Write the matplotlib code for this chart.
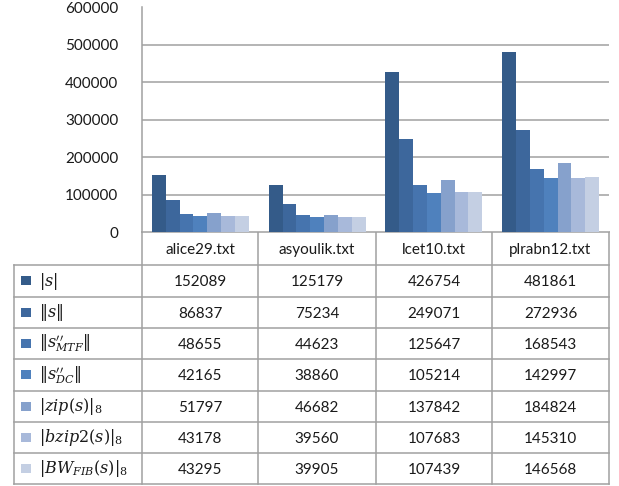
import matplotlib.pyplot as plt
import numpy as np

plt.rcParams['font.family'] = ['Lato', 'DejaVu Sans']
plt.rcParams['mathtext.fontset'] = 'dejavuserif'

# datos
archivos = ['alice29.txt', 'asyoulik.txt', 'lcet10.txt', 'plrabn12.txt']
etiquetas = [r'$|s|$', r'$\|s\|$', r"$\|s^{\prime\prime}_{MTF}\|$", r"$\|s^{\prime\prime}_{DC}\|$",
             r'$|zip(s)|_8$', r'$|bzip2(s)|_8$', r'$|BW_{FIB}(s)|_8$']
s_len = [152089, 125179, 426754, 481861]
s_norm = [86837, 75234, 249071, 272936]
s_mtf = [48655, 44623, 125647, 168543]
s_dc = [42165, 38860, 105214, 142997]
zip8 = [51797, 46682, 137842, 184824]
bzip8 = [43178, 39560, 107683, 145310]
bwfib8 = [43295, 39905, 107439, 146568]
series = [s_len, s_norm, s_mtf, s_dc, zip8, bzip8, bwfib8]
yticks = [0, 100000, 200000, 300000, 400000, 500000, 600000]

colores = ['#345b89', '#3d679c', '#4674ae', '#4f81bd', '#86a1cc', '#a8b9da', '#c4cfe3']
gris = '#a0a0a0'

W, H = 619, 486
fig = plt.figure(figsize=(W / 100, H / 100), dpi=100)

# eje de la tabla (coordenadas en pixeles)
tab = fig.add_axes([0, 0, 1, 1])
tab.set_xlim(0, W)
tab.set_ylim(H, 0)
tab.axis('off')

# eje del grafico
x0, x1, y0, y1 = 142, 609, 7.5, 232
ax = fig.add_axes([x0 / W, 1 - y1 / H, (x1 - x0) / W, (y1 - y0) / H])
ax.set_xlim(0, 4)
ax.set_ylim(0, 600000)
ax.set_yticks(yticks)
ax.set_yticklabels([str(t) for t in yticks], fontsize=11, color='#1a1a1a')
ax.tick_params(axis='y', length=0, pad=17)
ax.set_xticks([])
ax.grid(axis='y', color=gris, linewidth=1.1)
ax.set_axisbelow(True)
for lado in ['top', 'right', 'bottom']:
    ax.spines[lado].set_visible(False)
ax.spines['left'].set_color(gris)
ax.spines['left'].set_linewidth(1.1)

n = len(series)
ancho = 0.83 / n
xs = np.arange(len(archivos)) + 0.5
for i, (vals, c) in enumerate(zip(series, colores)):
    ax.bar(xs + (i - (n - 1) / 2) * ancho, vals, width=ancho, color=c, linewidth=0)

# tabla de valores
cols = [142, 258, 376, 492, 609]
filas = [232, 265, 297, 328, 359, 391, 422, 453, 484]
left = 14
kw = dict(color=gris, linewidth=1.1)
tab.plot([cols[0], cols[-1]], [filas[0], filas[0]], **kw)
for y in filas[1:]:
    tab.plot([left, cols[-1]], [y, y], **kw)
for x in cols:
    tab.plot([x, x], [filas[0], filas[-1]], **kw)
tab.plot([left, left], [filas[1], filas[-1]], **kw)

for j, nombre in enumerate(archivos):
    tab.text((cols[j] + cols[j + 1]) / 2, (filas[0] + filas[1]) / 2 + 1, nombre,
             ha='center', va='center', fontsize=11, color='#1a1a1a')

for i, (lab, vals, c) in enumerate(zip(etiquetas, series, colores)):
    yc = (filas[i + 1] + filas[i + 2]) / 2
    tab.add_patch(plt.Rectangle((21, yc - 5), 10, 9, color=c, linewidth=0))
    tab.text(39, yc, lab, ha='left', va='center', fontsize=11.5, color='#1a1a1a')
    for j, v in enumerate(vals):
        tab.text((cols[j] + cols[j + 1]) / 2, yc + 1, str(v),
                 ha='center', va='center', fontsize=11, color='#1a1a1a')

fig.savefig('out.png', dpi=100)
